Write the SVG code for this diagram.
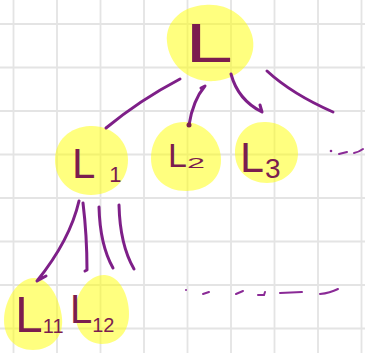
<svg xmlns="http://www.w3.org/2000/svg" width="365" height="353" viewBox="0 0 365 353">
<style>
.grid line{stroke:#e4e4e4;stroke-width:1.8}
.blob{fill:#ffff00;fill-opacity:0.5}
.lbl{font-family:"Liberation Sans",Arial,sans-serif;fill:#7b1d4f}
.con{fill:none;stroke:#7e1f88;stroke-width:3;stroke-linecap:round;stroke-linejoin:round}
.dash{fill:none;stroke:#8a2a96;stroke-width:2;stroke-linecap:round}
</style>
<rect width="365" height="353" fill="#ffffff"/>
<g class="grid">
<line x1="13.5" y1="0" x2="13.5" y2="353"/>
<line x1="57" y1="0" x2="57" y2="353"/>
<line x1="100.5" y1="0" x2="100.5" y2="353"/>
<line x1="144" y1="0" x2="144" y2="353"/>
<line x1="187.5" y1="0" x2="187.5" y2="353"/>
<line x1="231" y1="0" x2="231" y2="353"/>
<line x1="274.5" y1="0" x2="274.5" y2="353"/>
<line x1="318" y1="0" x2="318" y2="353"/>
<line x1="361.5" y1="0" x2="361.5" y2="353"/>
<line x1="0" y1="24" x2="365" y2="24"/>
<line x1="0" y1="67.5" x2="365" y2="67.5"/>
<line x1="0" y1="111" x2="365" y2="111"/>
<line x1="0" y1="154.5" x2="365" y2="154.5"/>
<line x1="0" y1="198" x2="365" y2="198"/>
<line x1="0" y1="241.5" x2="365" y2="241.5"/>
<line x1="0" y1="285" x2="365" y2="285"/>
<line x1="0" y1="328.5" x2="365" y2="328.5"/>
</g>
<g id="node-L">
<path class="blob" d="M205,5 C226,3 246,15 252,35 C258,56 244,78 215,81 C189,83 169,65 167,42 C165,20 184,6 205,5 Z"/>
<text class="lbl" x="185" y="62" font-size="56" textLength="48" lengthAdjust="spacingAndGlyphs">L</text>
</g>
<g id="node-L1">
<path class="blob" d="M90,126 C112,125 128,141 128,160 C128,181 112,195 91,195 C70,195 55,180 55,160 C55,140 70,127 90,126 Z"/>
<text class="lbl" x="72" y="178" font-size="42">L<tspan font-size="22" dx="14" dy="4">1</tspan></text>
</g>
<g id="node-L2">
<path class="blob" d="M184,122 C205,122 221,140 221,160 C221,180 205,191 186,191 C165,191 151,178 151,158 C151,138 165,122 184,122 Z"/>
<text class="lbl" x="168" y="167" font-size="34">L<tspan font-size="14" dy="1" textLength="18" lengthAdjust="spacingAndGlyphs">2</tspan></text>
</g>
<g id="node-L3">
<path class="blob" d="M264,122 C283,121 298,136 298,153 C298,171 284,183 267,183 C249,183 235,171 235,153 C235,135 247,122 264,122 Z"/>
<text class="lbl" x="240" y="172" font-size="43">L<tspan font-size="28" dx="1" dy="6">3</tspan></text>
</g>
<g id="node-L11">
<path class="blob" d="M34,278 C50,278 60,300 62,318 C64,338 50,350 33,350 C15,350 4,338 4,320 C4,300 18,278 34,278 Z"/>
<text class="lbl" x="15" y="332" font-size="50">L<tspan font-size="20" dx="0" dy="1">11</tspan></text>
</g>
<g id="node-L12">
<path class="blob" d="M105,275 C120,276 129,296 129,314 C129,332 118,344 102,344 C86,344 75,330 75,312 C75,292 90,274 105,275 Z"/>
<text class="lbl" x="70" y="323" font-size="40">L<tspan font-size="20" dx="0" dy="9">12</tspan></text>
</g>
<g id="connectors">
<path class="con" d="M180,79 Q140,100 106,128"/>
<path class="con" d="M201,88 L205,86 Q193,100 189,125"/>
<circle cx="189" cy="125" r="2.5" fill="#7b1d4f"/>
<path class="con" d="M231,74 Q238,100 262,112 L260,105"/>
<path class="con" d="M267,71 Q292,94 333,112"/>
<path class="con" d="M79,201 Q70,240 37,281 L46,276"/>
<path class="con" d="M83,203 Q87,236 87,270 L85,271"/>
<path class="con" d="M99,207 Q100,245 113,268"/>
<path class="con" d="M119,205 Q120,245 134,269"/>
<circle cx="331" cy="151" r="1.3" fill="#8a2a96"/>
<path class="dash" d="M339,154 L347,152 M354,153 Q359,152 363,149"/>
<circle cx="186" cy="290" r="1" fill="#8a2a96"/>
<path class="dash" d="M203,294 L209,292 M236,294 L243,291 M258,295 L264,295 L265,292 M280,293 L302,292 M320,294 Q330,293 338,289"/>
</g>
</svg>
